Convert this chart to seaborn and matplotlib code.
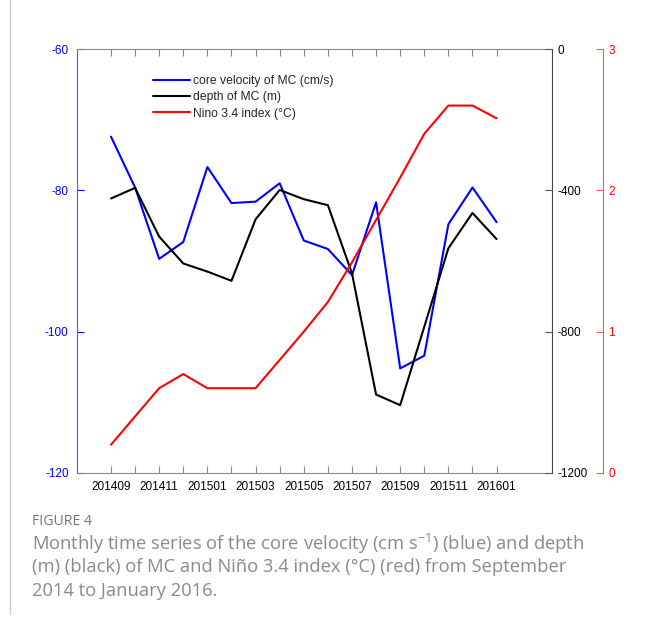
import matplotlib
matplotlib.use("Agg")
import matplotlib.pyplot as plt
import seaborn as sns
import pandas as pd
import numpy as np
from matplotlib.lines import Line2D

months = ["201409", "201410", "201411", "201412", "201501", "201502", "201503",
          "201504", "201505", "201506", "201507", "201508", "201509", "201510",
          "201511", "201512", "201601"]
velocity = [-72.4, -79.6, -89.7, -87.3, -76.7, -81.8, -81.6, -79.0, -87.1, -88.3,
            -92.0, -81.7, -105.2, -103.4, -84.8, -79.6, -84.5]
depth = [-423, -393, -531, -607, -630, -656, -482, -399, -425, -442,
         -635, -978, -1008, -786, -564, -464, -538]
nino = [0.20, 0.40, 0.60, 0.70, 0.60, 0.60, 0.60, 0.80, 1.00, 1.21,
        1.49, 1.79, 2.09, 2.40, 2.60, 2.60, 2.51]
legend_labels = ["core velocity of MC (cm/s)", "depth of MC (m)", "Nino 3.4 index (\u00b0C)"]
caption_head = "FIGURE 4"
caption_lines = ["Monthly time series of the core velocity (cm s$^{-1}$) (blue) and depth",
                 "(m) (black) of MC and Ni\u00f1o 3.4 index (\u00b0C) (red) from September",
                 "2014 to January 2016."]

sns.set_style("white")
plt.rcParams["font.family"] = ["Liberation Sans", "DejaVu Sans"]
plt.rcParams["axes.unicode_minus"] = False
plt.rcParams["mathtext.fontset"] = "custom"
plt.rcParams["mathtext.rm"] = "Open Sans"
plt.rcParams["mathtext.it"] = "Open Sans"
plt.rcParams["mathtext.default"] = "regular"

df = pd.DataFrame({"idx": np.arange(len(months)), "velocity": velocity,
                   "depth": depth, "nino": nino})

BLUE = "#0000ff"
RED = "#ff0000"
fig = plt.figure(figsize=(6.46, 6.23), dpi=100)
ax = fig.add_axes([0.1192, 0.2408, 0.7353, 0.6805])
ax2 = ax.twinx()
ax3 = ax.twinx()

sns.lineplot(data=df, x="idx", y="velocity", ax=ax, color=BLUE, linewidth=1.5)
sns.lineplot(data=df, x="idx", y="depth", ax=ax2, color="black", linewidth=1.5)
sns.lineplot(data=df, x="idx", y="nino", ax=ax3, color=RED, linewidth=1.5)

ax.set_xlim(-1.41, 18.3)
ax.set_ylim(-120, -60)
ax2.set_ylim(-1200, 0)
ax3.set_ylim(0, 3)
for a in (ax, ax2, ax3):
    a.set_xlabel("")
    a.set_ylabel("")

ax.set_xticks(np.arange(len(months)))
ax.set_xticklabels([m if i % 2 == 0 else "" for i, m in enumerate(months)])
ax.set_yticks([-120, -100, -80, -60])
ax2.set_yticks([-1200, -800, -400, 0])
ax3.set_yticks([0, 1, 2, 3])

ax.tick_params(axis="x", direction="in", length=5, width=0.8, color="#888888",
               labelsize=8.5, pad=6, top=True, bottom=True, labelcolor="black")
ax.tick_params(axis="y", direction="in", length=5, width=0.8, colors=BLUE,
               labelsize=8.5, pad=6)
ax2.tick_params(axis="y", direction="in", length=5, width=0.8, color="#555555",
                labelcolor="black", labelsize=8.5, pad=4)
ax3.tick_params(axis="y", direction="in", length=5, width=0.8, color="#ff5555",
                labelcolor=RED, labelsize=8.5, pad=4)

for a in (ax, ax2, ax3):
    for s in a.spines.values():
        s.set_visible(False)
ax.spines["left"].set_visible(True)
ax.spines["left"].set_color("#5555ff")
ax.spines["top"].set_visible(True)
ax.spines["top"].set_color("#888888")
ax.spines["bottom"].set_visible(True)
ax.spines["bottom"].set_color("#888888")
ax2.spines["right"].set_visible(True)
ax2.spines["right"].set_color("#444444")
ax3.spines["right"].set_visible(True)
ax3.spines["right"].set_position(("axes", 1.107))
ax3.spines["right"].set_color("#ff5555")
for a in (ax, ax2, ax3):
    for s in a.spines.values():
        s.set_linewidth(0.8)

handles = [Line2D([], [], color=c, linewidth=1.5) for c in (BLUE, "black", RED)]
ax3.legend(handles, legend_labels, loc="upper left", bbox_to_anchor=(0.16, 0.939),
           frameon=False, fontsize=8.7, handlelength=3.05, handletextpad=0.3,
           labelspacing=0.36, borderaxespad=0, borderpad=0)

fig.add_artist(Line2D([10 / 646, 10 / 646], [0.015, 1.0], color="#cccccc", linewidth=1.0))
fig.text(32 / 646, 1 - 521.5 / 623, caption_head, fontsize=10.2, color="#777777",
         family=["Open Sans", "DejaVu Sans"], va="center", ha="left")
for i, line in enumerate(caption_lines):
    fig.text(32 / 646, 1 - (544 + i * 23.5) / 623, line, fontsize=13.2, color="#8a8a8a",
             family=["Open Sans", "DejaVu Sans"], va="center", ha="left")

fig.savefig("out.png", dpi=100)
